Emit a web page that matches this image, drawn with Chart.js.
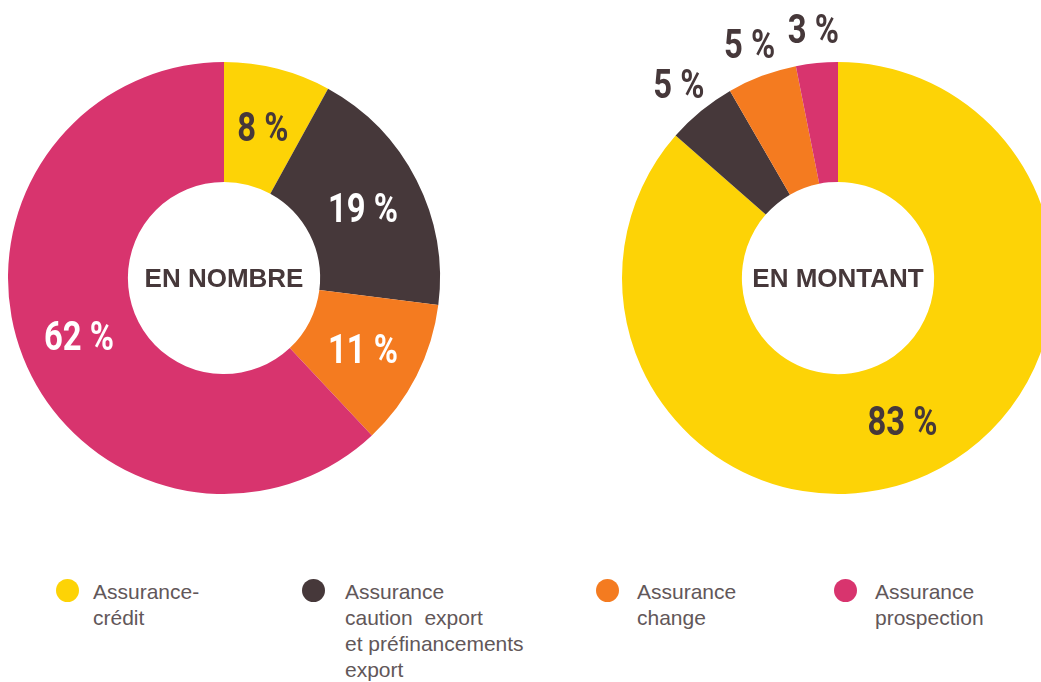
<!DOCTYPE html>
<html lang="fr">
<head>
<meta charset="utf-8">
<script src="https://cdn.jsdelivr.net/npm/chart.js@4"></script>
<style>
    html, body { margin: 0; padding: 0; background: #fff; }
    body { width: 1041px; height: 682px; overflow: hidden; position: relative; font-family: 'Liberation Sans', Arial, sans-serif; }
    canvas { position: absolute; top: 0; }
    #chartNombre { left: 0; }
    #chartMontant { left: 580px; }
    .legend-dot { position: absolute; width: 23px; height: 23px; border-radius: 50%; top: 579px; }
    .legend-text { position: absolute; top: 579px; font-size: 21px; line-height: 26px; color: #625759; white-space: pre; }
</style>
</head>
<body>
<canvas id="chartNombre" width="460" height="520"></canvas>
<canvas id="chartMontant" width="500" height="520"></canvas>
<div id="legend"></div>

<script>
// Data
const categories = ['Assurance-crédit', 'Assurance caution export et préfinancements export', 'Assurance change', 'Assurance prospection'];
const legendLines = [
    ['Assurance-', 'crédit'],
    ['Assurance', 'caution  export', 'et préfinancements', 'export'],
    ['Assurance', 'change'],
    ['Assurance', 'prospection']
];
const nombreValues = [8, 19, 11, 62];
const montantValues = [83, 5, 5, 3];
const centerTitles = ['EN NOMBRE', 'EN MONTANT'];

const colors = ['#FDD306', '#46383A', '#F47B20', '#D8346E'];
const darkText = '#46383A';

// legend layout (px)
const dotX = [56, 302, 596, 834];
const textX = [93, 345, 637, 875];

const labelPlugin = {
    id: 'sliceLabels',
    afterDatasetsDraw(chart, args, opts) {
        let ctx = chart.ctx;
        let meta = chart.getDatasetMeta(0);
        let values = chart.data.datasets[0].data;
        let cx = 0, cy = 0;

        meta.data.forEach((arc, i) => {
            let p = arc.getProps(['x', 'y', 'startAngle', 'endAngle', 'innerRadius', 'outerRadius'], true);
            cx = p.x; cy = p.y;
            let span = p.endAngle - p.startAngle;
            let mid = (p.startAngle + p.endAngle) / 2;
            let outside = span < Math.PI * 25 / 180; // small slices get their label outside the ring
            let r = outside ? p.outerRadius + 35 : (p.innerRadius + p.outerRadius) / 2;
            let lx = p.x + Math.cos(mid) * r;
            let ly = p.y + Math.sin(mid) * r;

            ctx.save();
            ctx.translate(lx, ly + 14.5);
            ctx.scale(0.8, 1);
            ctx.font = 'bold 41px Roboto, sans-serif';
            ctx.textAlign = 'center';
            ctx.textBaseline = 'alphabetic';
            ctx.fillStyle = (outside || colors[i] === '#FDD306') ? darkText : '#ffffff';
            ctx.fillText(values[i] + ' %', 0, 0);
            ctx.restore();
        });

        // title in the hole
        ctx.save();
        ctx.font = 'bold 26px "Liberation Sans", Arial, sans-serif';
        ctx.textAlign = 'center';
        ctx.textBaseline = 'alphabetic';
        ctx.fillStyle = darkText;
        ctx.fillText(opts.title, cx, cy + 9);
        ctx.restore();
    }
};

function makeDoughnut(id, values, title, padding) {
    let ctx = document.getElementById(id).getContext('2d');
    return new Chart(ctx, {
        type: 'doughnut',
        data: {
            labels: categories,
            datasets: [{
                data: values,
                backgroundColor: colors,
                borderWidth: 0
            }]
        },
        options: {
            responsive: false,
            animation: false,
            cutout: '44.5%',
            layout: { padding: padding },
            plugins: {
                legend: { display: false },
                tooltip: { enabled: false },
                sliceLabels: { title: title }
            }
        },
        plugins: [labelPlugin]
    });
}

makeDoughnut('chartNombre', nombreValues, centerTitles[0], { left: 8, top: 62, right: 20, bottom: 26 });
makeDoughnut('chartMontant', montantValues, centerTitles[1], { left: 42, top: 62, right: 26, bottom: 26 });

// HTML legend
let legend = document.getElementById('legend');
categories.forEach((cat, i) => {
    let dot = document.createElement('div');
    dot.className = 'legend-dot';
    dot.style.left = dotX[i] + 'px';
    dot.style.background = colors[i];
    dot.title = cat;
    legend.appendChild(dot);

    let txt = document.createElement('div');
    txt.className = 'legend-text';
    txt.style.left = textX[i] + 'px';
    txt.textContent = legendLines[i].join('\n');
    legend.appendChild(txt);
});
</script>
</body>
</html>
